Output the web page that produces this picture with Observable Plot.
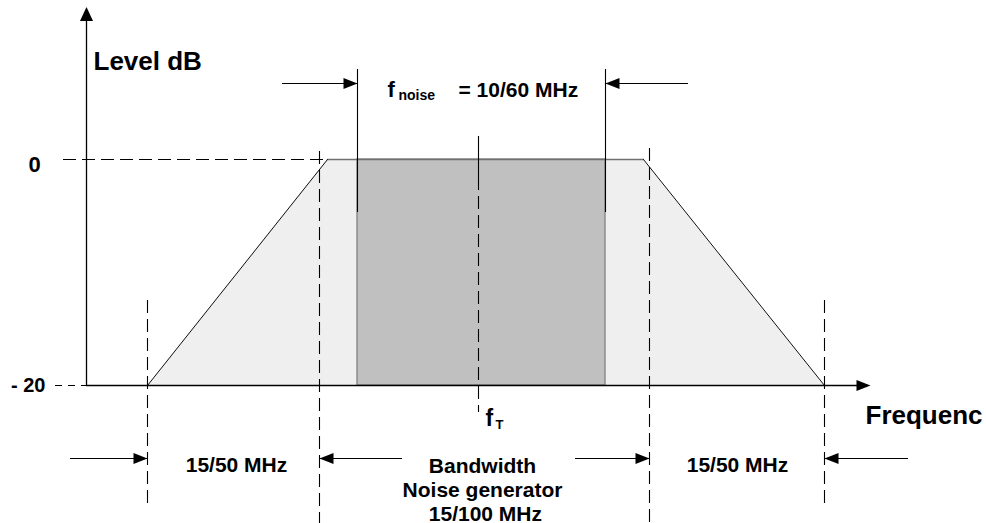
<!DOCTYPE html>
<html>
<head>
<meta charset="utf-8">
<script src="https://cdn.jsdelivr.net/npm/d3@7"></script>
<script src="https://cdn.jsdelivr.net/npm/@observablehq/plot@0.6"></script>
<style>
  html, body { margin: 0; padding: 0; background: #fff; }
  svg text { font-family: "Liberation Sans", Arial, sans-serif; font-weight: bold; }
</style>
</head>
<body>
<div id="chart"></div>
<script>
// ---- Data (frequency in diagram units relative to f_T, level in dB) ----
const levelTop = 0;          // 0 dB
const levelBottom = -20;     // -20 dB
const levelTicks = [0, -20];
const levelTickLabels = ["0", "- 20"];

// generator band (trapezoid): frequency / level
const trapFreq  = [-33.1, -15.1, 16.5, 34.6];
const trapLevel = [-20, 0, 0, -20];

// noise band (f_noise)
const noiseFreq = [-12.1, 12.7];
const centerFreq = 0;        // f_T

// guide positions
const innerGuides = [-15.9, 17.1];   // bandwidth limits
const outerGuides = [-33.1, 34.6];   // slope ends

// axes extents
const axisFreqStart = -39.2;
const axisFreqEnd = 39.2;
const axisLevelEnd = 13.5;

// dimension arrows
const topArrowLevel = 6.73;
const bottomArrowLevel = -26.46;
const topArrowsFrom = [-19.6, 21.0];
const topArrowsTo   = [-12.1, 12.7];
const bottomArrowsFrom = [-40.8, -7.6, 9.7, 43.0];
const bottomArrowsTo   = [-33.1, -15.9, 17.1, 34.6];

// texts
const labelTexts = ["Level dB", "Frequenc", "15/50 MHz", "15/50 MHz", "Bandwidth\nNoise generator\n 15/100 MHz"];

// ---- Build tables ----
const trapezoid = trapFreq.map((f, i) => ({f, level: trapLevel[i]}));

const W = 986, H = 523;
const xDomain = [-47.8, 50.8];
const yDomain = [-32.212, 14.071];

// arrowhead symbols (tip at origin)
const headRight = {draw(c) { c.moveTo(0, 0); c.lineTo(-14, -5.5); c.lineTo(-14, 5.5); c.closePath(); }};
const headLeft  = {draw(c) { c.moveTo(0, 0); c.lineTo(14, -5.5); c.lineTo(14, 5.5); c.closePath(); }};
const headUp    = {draw(c) { c.moveTo(0, 0); c.lineTo(-6.5, 14); c.lineTo(6.5, 14); c.closePath(); }};

const dash = "13,6";

const rightHeads = [
  {f: topArrowsTo[0], level: topArrowLevel},
  {f: bottomArrowsTo[0], level: bottomArrowLevel},
  {f: bottomArrowsTo[2], level: bottomArrowLevel},
  {f: axisFreqEnd, level: levelBottom}
];
const leftHeads = [
  {f: topArrowsTo[1], level: topArrowLevel},
  {f: bottomArrowsTo[1], level: bottomArrowLevel},
  {f: bottomArrowsTo[3], level: bottomArrowLevel}
];
const upHeads = [{f: axisFreqStart, level: axisLevelEnd}];

const topArrows = topArrowsFrom.map((a, i) => ({f1: a, f2: topArrowsTo[i], level: topArrowLevel}));
const bottomArrows = bottomArrowsFrom.map((a, i) => ({f1: a, f2: bottomArrowsTo[i], level: bottomArrowLevel}));

const tickLabels = levelTickLabels.map((t, i) => ({text: t, level: levelTicks[i]}));

const plot = Plot.plot({
  width: W,
  height: H,
  margin: 0,
  x: {domain: xDomain, axis: null},
  y: {domain: yDomain, axis: null},
  style: {background: "#fff", overflow: "visible"},
  marks: [
    // trapezoid fill
    Plot.areaY(trapezoid, {x: "f", y1: levelBottom, y2: "level", fill: "#efefef"}),
    // noise band
    Plot.rect([{f1: noiseFreq[0], f2: noiseFreq[1]}], {x1: "f1", x2: "f2", y1: levelBottom, y2: levelTop, fill: "#c0c0c0", stroke: "#808080", strokeWidth: 1.3}),
    // trapezoid outline: top gray, slopes black
    Plot.line(trapezoid.slice(1, 3), {x: "f", y: "level", stroke: "#707070", strokeWidth: 1.5}),
    Plot.line(trapezoid.slice(0, 2), {x: "f", y: "level", stroke: "#111", strokeWidth: 1}),
    Plot.line(trapezoid.slice(2, 4), {x: "f", y: "level", stroke: "#111", strokeWidth: 1}),
    // dashed level guides
    Plot.ruleY([{level: levelTop, f1: -41.5, f2: trapFreq[1]}], {y: "level", x1: "f1", x2: "f2", stroke: "#000", strokeWidth: 1.1, strokeDasharray: dash}),
    Plot.ruleY([{level: levelBottom, f1: -42.3, f2: axisFreqStart}], {y: "level", x1: "f1", x2: "f2", stroke: "#000", strokeWidth: 1.1, strokeDasharray: "7,6"}),
    // dashed frequency guides
    Plot.ruleX(innerGuides, {x: d => d, y1: (d, i) => i === 0 ? 0.71 : 0.97, y2: yDomain[0], stroke: "#000", strokeWidth: 1.1, strokeDasharray: dash}),
    Plot.ruleX(outerGuides, {x: d => d, y1: -12.48, y2: -30.62, stroke: "#000", strokeWidth: 1.1, strokeDasharray: dash}),
    // center f_T line
    Plot.ruleX([centerFreq], {y1: 2.04, y2: -1.59, stroke: "#000", strokeWidth: 1.1}),
    Plot.ruleX([centerFreq], {y1: -1.59, y2: -22.39, stroke: "#000", strokeWidth: 1.1, strokeDasharray: dash}),
    // noise band edge markers
    Plot.ruleX(noiseFreq, {x: d => d, y1: 7.96, y2: -4.69, stroke: "#000", strokeWidth: 1.1}),
    // axes
    Plot.ruleY([levelBottom], {x1: axisFreqStart, x2: axisFreqEnd - 0.8, stroke: "#000", strokeWidth: 1.3}),
    Plot.ruleX([axisFreqStart], {y1: levelBottom, y2: axisLevelEnd - 0.8, stroke: "#000", strokeWidth: 1.3}),
    // dimension arrows
    Plot.ruleY(topArrows, {y: "level", x1: "f1", x2: "f2", stroke: "#000", strokeWidth: 1.1}),
    Plot.ruleY(bottomArrows, {y: "level", x1: "f1", x2: "f2", stroke: "#000", strokeWidth: 1.1}),
    Plot.dot(rightHeads, {x: "f", y: "level", symbol: headRight, fill: "#000", stroke: "none", r: 6}),
    Plot.dot(leftHeads, {x: "f", y: "level", symbol: headLeft, fill: "#000", stroke: "none", r: 6}),
    Plot.dot(upHeads, {x: "f", y: "level", symbol: headUp, fill: "#000", stroke: "none", r: 6}),
    // labels
    Plot.text([labelTexts[0]], {x: -38.5, y: 7.88, text: d => d, textAnchor: "start", lineAnchor: "bottom", fontSize: 26, fontWeight: "bold", fill: "#000"}),
    Plot.text(tickLabels.slice(0, 1), {x: -44.4, y: -1.12, text: "text", textAnchor: "middle", lineAnchor: "bottom", fontSize: 22, fontWeight: "bold", fill: "#000"}),
    Plot.text(tickLabels.slice(1), {x: -43.3, y: -20.59, text: "text", textAnchor: "end", lineAnchor: "bottom", fontSize: 20, fontWeight: "bold", fill: "#000"}),
    Plot.text(["f"], {x: -9.1, y: 5.49, text: d => d, textAnchor: "start", lineAnchor: "bottom", fontSize: 22, fontWeight: "bold"}),
    Plot.text(["noise"], {x: -8.0, y: 5.25, text: d => d, textAnchor: "start", lineAnchor: "bottom", fontSize: 14, fontWeight: "bold"}),
    Plot.text(["= 10/60 MHz"], {x: -2.0, y: 5.49, text: d => d, textAnchor: "start", lineAnchor: "bottom", fontSize: 21, fontWeight: "bold"}),
    Plot.text(["f"], {x: 0.7, y: -23.54, text: d => d, textAnchor: "start", lineAnchor: "bottom", fontSize: 23, fontWeight: "bold"}),
    Plot.text(["T"], {x: 1.7, y: -23.89, text: d => d, textAnchor: "start", lineAnchor: "bottom", fontSize: 13, fontWeight: "bold"}),
    Plot.text([labelTexts[1]], {x: 38.7, y: -23.39, text: d => d, textAnchor: "start", lineAnchor: "bottom", fontSize: 26, fontWeight: "bold"}),
    Plot.text([labelTexts[2], labelTexts[3]], {x: (d, i) => i === 0 ? -24.2 : 25.9, y: -27.67, text: d => d, textAnchor: "middle", lineAnchor: "bottom", fontSize: 21, fontWeight: "bold"}),
    Plot.text([labelTexts[4]], {x: 0.4, y: -31.95, text: d => d, textAnchor: "middle", lineAnchor: "bottom", fontSize: 21, lineHeight: 1.14, fontWeight: "bold"})
  ]
});
document.getElementById("chart").appendChild(plot);
</script>
</body>
</html>
